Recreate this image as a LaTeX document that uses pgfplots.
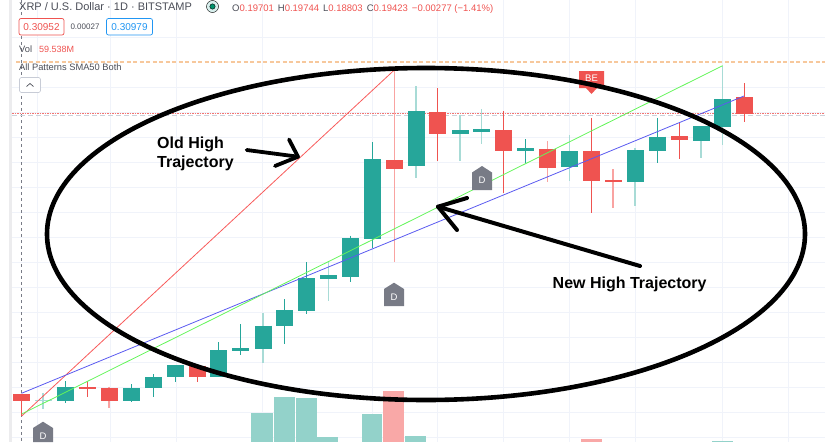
\documentclass[border=0pt]{standalone}
\usepackage{pgfplots}
\pgfplotsset{compat=1.18}
\usepackage{fontspec}
\setmainfont{Liberation Sans}
\definecolor{tvgreen}{HTML}{26A69A}
\definecolor{tvred}{HTML}{EF5350}
\definecolor{tvlgreen}{HTML}{A8DBD6}
\definecolor{tvlred}{HTML}{F9A3A1}
\definecolor{gridc}{HTML}{F0F3FA}
\definecolor{volg}{HTML}{93D2CA}
\definecolor{volr}{HTML}{F9A8A7}
\definecolor{mk}{HTML}{787B86}
\definecolor{txtg}{HTML}{4A4D57}
\begin{document}
\begin{tikzpicture}[x=1pt,y=1pt]
\begin{axis}[
  at={(0,0)},anchor=south west,
  scale only axis,width=825pt,height=442pt,
  xmin=0,xmax=825,ymin=0,ymax=442,y dir=reverse,
  axis lines=none,ticks=none,
  unbounded coords=jump,clip=true,
  every axis plot/.append style={no marks,line cap=butt}]
% grid
\addplot[gridc,line width=0.8pt] coordinates {
(37,0)(37,442)(37,nan)(110,0)(110,442)(110,nan)(176,0)(176,442)(176,nan)(262,0)(262,442)(262,nan)
(372,0)(372,442)(372,nan)(437,0)(437,442)(437,nan)(503,0)(503,442)(503,nan)(569,0)(569,442)(569,nan)
(635,0)(635,442)(635,nan)(722,0)(722,442)(722,nan)(788,0)(788,442)(788,nan)};
\addplot[gridc,line width=0.8pt] coordinates {
(12,37)(825,37)(825,nan)(12,87)(825,87)(825,nan)(12,112)(825,112)(825,nan)(12,137)(825,137)(825,nan)
(12,162)(825,162)(825,nan)(12,187)(825,187)(825,nan)(12,212)(825,212)(825,nan)(12,237)(825,237)(825,nan)
(12,262)(825,262)(825,nan)(12,287)(825,287)(825,nan)(12,312)(825,312)(825,nan)(12,337)(825,337)(825,nan)
(12,362)(825,362)(825,nan)(12,387)(825,387)(825,nan)(12,412)(825,412)(825,nan)(12,437)(825,437)(825,nan)};
% left strip and dashed lines
\addplot[fill=gridc!70!gray!40,draw=none] coordinates {(9,0)(12,0)(12,442)(9,442)} --cycle;
\addplot[mk,line width=0.8pt,dash pattern=on 3pt off 3pt] coordinates {(21.5,0)(21.5,442)};
\addplot[color={rgb,255:red,247;green,200;blue,156},line width=1.6pt,dash pattern=on 4pt off 2.5pt] coordinates {(16,61.7)(825,61.7)};
\addplot[color={rgb,255:red,205;green,209;blue,218},line width=1.1pt,dash pattern=on 5pt off 3pt] coordinates {(12,115.5)(825,115.5)};
\addplot[color=tvred!80,line width=0.5pt,dash pattern=on 1.5pt off 1pt] coordinates {(12,113.4)(825,113.4)};
% volume
\addplot[fill=volg,draw=none] coordinates {(251,442)(251,412.7)(272.7,412.7)(272.7,442)} --cycle;
\addplot[fill=volg,draw=none] coordinates {(274,442)(274,397)(295,397)(295,442)} --cycle;
\addplot[fill=volg,draw=none] coordinates {(295.7,442)(295.7,397.7)(316.7,397.7)(316.7,442)} --cycle;
\addplot[fill=volg,draw=none] coordinates {(317.4,442)(317.4,436.7)(338.4,436.7)(338.4,442)} --cycle;
\addplot[fill=volg,draw=none] coordinates {(361.7,442)(361.7,414)(382.3,414)(382.3,442)} --cycle;
\addplot[fill=volr,draw=none] coordinates {(383,442)(383,391)(404,391)(404,442)} --cycle;
\addplot[fill=volg,draw=none] coordinates {(405,442)(405,436)(426,436)(426,442)} --cycle;
\addplot[fill=volr,draw=none] coordinates {(580.7,442)(580.7,439.3)(601.7,439.3)(601.7,442)} --cycle;
\addplot[fill=volg,draw=none] coordinates {(712,442)(712,441)(733,441)(733,442)} --cycle;
% wicks
\addplot[tvgreen,line width=0.8pt] coordinates {
(65.5,381)(65.5,402.7)(65.5,nan)(131,384)(131,401.7)(131,nan)(153,374.3)(153,396.7)(153,nan)
(175,365)(175,382.3)(175,nan)(218.5,342)(218.5,376.7)(218.5,nan)(240.5,324)(240.5,354.7)(240.5,nan)
(284.5,299.3)(284.5,344)(284.5,nan)(306.5,262)(306.5,314)(306.5,nan)(350.5,235.7)(350.5,281.7)(350.5,nan)
(372.3,142.3)(372.3,248)(372.3,nan)(525.7,139.3)(525.7,162.7)(525.7,nan)(657,118.3)(657,162.7)(657,nan)};
\addplot[tvlgreen,line width=1.2pt] coordinates {
(43,393)(43,409)(43,nan)(263,313)(263,362.7)(263,nan)(328.5,262)(328.5,300.7)(328.5,nan)
(416,86)(416,177.7)(416,nan)(460,115)(460,161)(460,nan)(481.7,109)(481.7,144)(481.7,nan)
(569.7,135)(569.7,180.7)(569.7,nan)(635,148.3)(635,206)(635,nan)(701,126)(701,157.7)(701,nan)
(722.7,65.7)(722.7,144.7)(722.7,nan)};
\addplot[tvred,line width=0.8pt] coordinates {
(21.5,394)(21.5,416)(21.5,nan)(87.5,381)(87.5,397)(87.5,nan)(197,365.7)(197,382.3)(197,nan)
(437.7,88.3)(437.7,160.7)(437.7,nan)(503.7,111)(503.7,192.7)(503.7,nan)(591.7,118.3)(591.7,212.7)(591.7,nan)
(679,123.3)(679,158.7)(679,nan)(744.7,83)(744.7,122)(744.7,nan)};
\addplot[tvlred,line width=1.2pt] coordinates {
(109,386.7)(109,407.7)(109,nan)(394.3,70)(394.3,262.3)(394.3,nan)(547.7,141)(547.7,182)(547.7,nan)
(613,169)(613,207.7)(613,nan)};
% bodies
\addplot[tvgreen,line width=17pt] coordinates {
(65.5,387.3)(65.5,401.3)(65.5,nan)(131,388)(131,400.7)(131,nan)(153,377.3)(153,388.3)(153,nan)
(175,365)(175,376.7)(175,nan)(218.5,350)(218.5,376.7)(218.5,nan)(240.5,348)(240.5,350.7)(240.5,nan)
(263,325.7)(263,349.3)(263,nan)(284.5,310)(284.5,325.7)(284.5,nan)(306.5,278.3)(306.5,310.7)(306.5,nan)
(328.5,275.3)(328.5,279)(328.5,nan)(350.5,238)(350.5,276.7)(350.5,nan)(372.3,159)(372.3,238.7)(372.3,nan)
(416,111)(416,166)(416,nan)(460,130.3)(460,134)(460,nan)(481.7,129)(481.7,132)(481.7,nan)
(525.7,148)(525.7,151.3)(525.7,nan)(569.7,151)(569.7,167)(569.7,nan)(635,150)(635,182.3)(635,nan)
(657,136.7)(657,150.7)(657,nan)(701,126)(701,140.7)(701,nan)(722.7,99)(722.7,126.7)(722.7,nan)};
\addplot[tvlgreen,line width=17pt] coordinates {(43,400)(43,401.3)};
\addplot[tvred,line width=17pt] coordinates {
(21.5,394)(21.5,401.3)(21.5,nan)(87.5,387)(87.5,388.7)(87.5,nan)(109,388)(109,400.7)(109,nan)
(197,365.7)(197,377.3)(197,nan)(394.3,160)(394.3,168.7)(394.3,nan)(437.7,112)(437.7,134)(437.7,nan)
(503.7,130)(503.7,150.7)(503.7,nan)(547.7,148.7)(547.7,167.7)(547.7,nan)(591.7,151)(591.7,180.7)(591.7,nan)
(613,180)(613,182.3)(613,nan)(679,136)(679,140)(679,nan)(744.7,97.3)(744.7,113.7)(744.7,nan)};
% trend lines
\addplot[color={rgb,255:red,248;green,90;blue,90},line width=0.8pt] coordinates {(21.7,416)(394.3,70)};
\addplot[color={rgb,255:red,90;green,90;blue,240},line width=0.8pt] coordinates {(21.5,393.3)(744,96)};
\addplot[color={rgb,255:red,100;green,245;blue,90},line width=0.8pt] coordinates {(21.7,414)(722.7,65.7)};
% markers
\addplot[fill=mk,draw=none] coordinates {(33,428)(43,421.7)(53,428)(53,442)(33,442)} --cycle;
\addplot[fill=mk,draw=none] coordinates {(384,289)(394,282.7)(404,289)(404,306)(384,306)} --cycle;
\addplot[fill=mk,draw=none] coordinates {(472,172.5)(482,166)(492,172.5)(492,190)(472,190)} --cycle;
\addplot[fill=tvred,draw=none] coordinates {(579,71)(604,71)(604,88)(597,88)(591.5,94)(586,88)(579,88)} --cycle;
\node[white,font=\fontsize{9.5}{11}\selectfont] at (axis cs:43,436) {D};
\node[white,font=\fontsize{9.5}{11}\selectfont] at (axis cs:394,297) {D};
\node[white,font=\fontsize{9.5}{11}\selectfont] at (axis cs:482,180.5) {D};
\node[white,font=\fontsize{9.5}{11}\selectfont] at (axis cs:591.5,78.5) {BE};
% header
\node[anchor=base west,inner sep=0,txtg,font=\fontsize{11}{13}\selectfont] at (axis cs:19,10) {XRP / U.S. Dollar · 1D · BITSTAMP};
\addplot[only marks,mark=*,mark size=6pt,mark options={draw=none,fill=tvgreen!18}] coordinates {(212.5,6.5)};
\addplot[only marks,mark=*,mark size=2.7pt,mark options={draw=none,fill=teal!85!green}] coordinates {(212.5,6.5)};
\node[anchor=base west,inner sep=0,font=\fontsize{9.5}{12}\selectfont] at (axis cs:232,11) {\textcolor{txtg}{O}\textcolor{tvred}{0.19701}\hspace{4pt}\textcolor{txtg}{H}\textcolor{tvred}{0.19744}\hspace{4pt}\textcolor{txtg}{L}\textcolor{tvred}{0.18803}\hspace{4pt}\textcolor{txtg}{C}\textcolor{tvred}{0.19423}\hspace{4pt}\textcolor{tvred}{−0.00277 (−1.41\%)}};
\draw[tvred,line width=0.7pt,rounded corners=2pt,fill=white] (axis cs:19,18.5) rectangle (axis cs:64,35);
\node[tvred,font=\fontsize{10}{12}\selectfont] at (axis cs:41.5,27) {0.30952};
\node[txtg,font=\fontsize{8}{10}\selectfont] at (axis cs:85,27) {0.00027};
\draw[color={rgb,255:red,33;green,150;blue,243},line width=0.7pt,rounded corners=2pt,fill=white] (axis cs:106.5,18.5) rectangle (axis cs:152.5,35);
\node[color={rgb,255:red,33;green,150;blue,243},font=\fontsize{10}{12}\selectfont] at (axis cs:129.5,27) {0.30979};
\node[anchor=base west,inner sep=0,txtg,font=\fontsize{9.3}{11}\selectfont] at (axis cs:19,52) {Vol};
\node[anchor=base west,inner sep=0,tvred,font=\fontsize{9}{11}\selectfont] at (axis cs:39,52) {59.538M};
\node[anchor=base west,inner sep=0,txtg,font=\fontsize{9.3}{11}\selectfont] at (axis cs:19,70) {All Patterns SMA50 Both};
\draw[color={rgb,255:red,200;green,204;blue,214},line width=0.6pt,rounded corners=1.5pt,fill=white] (axis cs:19.5,77.5) rectangle (axis cs:40.5,92.5);
\draw[txtg,line width=0.7pt] (axis cs:26.5,86.5) -- (axis cs:30,83.5) -- (axis cs:33.5,86.5);
% annotations
\draw[black,line width=4.6pt] (axis cs:426,234) ellipse [x radius=379pt,y radius=166pt];
\draw[black,line width=3.8pt,line cap=round,line join=round] (axis cs:246.7,150) -- (axis cs:298,156.7);
\draw[black,line width=3.8pt,line cap=round,line join=round] (axis cs:289,139.5) -- (axis cs:298,156.7) -- (axis cs:275,166);
\draw[black,line width=4pt,line cap=round,line join=round] (axis cs:640,266) -- (axis cs:438,206.7);
\draw[black,line width=4pt,line cap=round,line join=round] (axis cs:467,198) -- (axis cs:438,206.7) -- (axis cs:457,230);
\node[anchor=base west,inner sep=0,font=\bfseries\fontsize{16}{18}\selectfont] at (axis cs:157,148) {Old High};
\node[anchor=base west,inner sep=0,font=\bfseries\fontsize{16}{18}\selectfont] at (axis cs:157,167) {Trajectory};
\node[anchor=base west,inner sep=0,font=\bfseries\fontsize{16}{18}\selectfont] at (axis cs:552.5,288) {New High Trajectory};
\end{axis}
\pgfresetboundingbox
\useasboundingbox (0,0) rectangle (825pt,442pt);
\end{tikzpicture}
\end{document}
